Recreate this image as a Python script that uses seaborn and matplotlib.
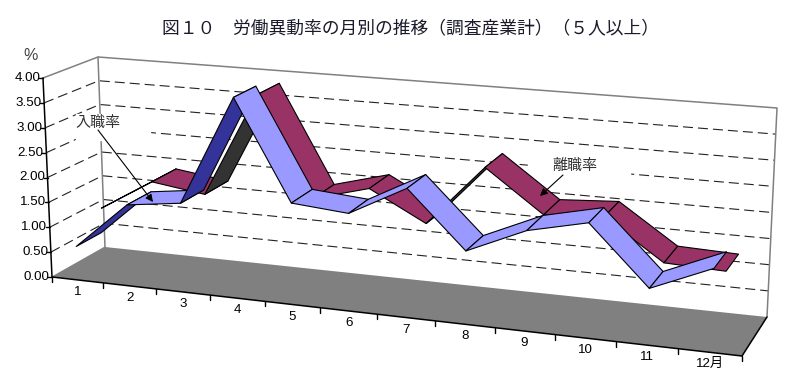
import numpy as np
import pandas as pd
import matplotlib
matplotlib.use('Agg')
import matplotlib.pyplot as plt
import seaborn as sns

# --- Dati ---
months = ['1', '2', '3', '4', '5', '6', '7', '8', '9', '10', '11', '12月']
entry_rate = [0.67, 1.61, 1.75, 3.93, 1.97, 1.88, 2.47, 1.39, 1.89, 2.15, 1.05, 1.54]
exit_rate = [1.16, 1.80, 1.65, 3.75, 1.78, 2.08, 1.50, 2.70, 1.89, 1.96, 1.20, 1.16]
y_ticks = [0.0, 0.5, 1.0, 1.5, 2.0, 2.5, 3.0, 3.5, 4.0]
y_max = 4.0
title = '図１０　労働異動率の月別の推移（調査産業計）（５人以上）'

# --- Angoli del box 3D in pixel (fronte/retro, sotto/sopra, sinistra/destra) ---
corners = {
    'flb': (52, 277), 'flt': (43, 78), 'frb': (742, 356), 'frt': (753, 137),
    'blb': (105, 247), 'blt': (98, 57), 'brb': (767, 317), 'brt': (777, 108),
}


def project(u, v, w):
    # u = mesi 0-1, v = profondita 0-1, w = altezza 0-1
    s = u * (0.886 + 0.114 * u)  # prospettiva lungo x
    c = {k: np.array(p, dtype=float) for k, p in corners.items()}
    front_b = c['flb'] + s * (c['frb'] - c['flb'])
    front_t = c['flt'] + s * (c['frt'] - c['flt'])
    back_b = c['blb'] + s * (c['brb'] - c['blb'])
    back_t = c['blt'] + s * (c['brt'] - c['blt'])
    bottom = front_b + v * (back_b - front_b)
    top = front_t + v * (back_t - front_t)
    return bottom + w * (top - bottom)


def pt(month_idx, rate, v):
    return project((month_idx + 0.5) / len(months), v, rate / y_max)


sns.set_theme(style='white')
plt.rcParams['font.family'] = ['Liberation Sans', 'Noto Sans CJK JP', 'DejaVu Sans']

fig = plt.figure(figsize=(7.92, 3.90), dpi=100)
ax = fig.add_axes([0, 0, 1, 1])
ax.set_xlim(0, 792)
ax.set_ylim(390, 0)
ax.axis('off')

# --- Pavimento ---
floor = [project(0, 0, 0), project(1, 0, 0), project(1, 1, 0), project(0, 1, 0)]
ax.fill(*zip(*floor), facecolor='#808080', edgecolor='none', zorder=1)

# --- Griglia tratteggiata su parete sinistra e di fondo ---
rows = []
for r in y_ticks[1:-1]:
    w = r / y_max
    for i, p in enumerate([project(0, 0, w), project(0, 1, w), project(1, 1, w)]):
        rows.append({'rate': r, 'x': p[0], 'y': p[1]})
grid_df = pd.DataFrame(rows)
sns.lineplot(data=grid_df, x='x', y='y', units='rate', estimator=None, sort=False,
             color='#222222', linewidth=0.8, linestyle=(0, (9, 4.5)), legend=False, ax=ax, zorder=2)
ax.set_xlim(0, 792)
ax.set_ylim(390, 0)
ax.axis('off')

# --- Contorno pareti ---
outline = [project(0, 0, 1), project(0, 1, 1), project(1, 1, 1), project(1, 1, 0)]
ax.plot(*zip(*outline), color='#808080', lw=1.1, zorder=2)
ax.plot(*zip(project(0, 1, 1), project(0, 1, 0)), color='#808080', lw=1.1, zorder=2)
ax.plot(*zip(project(0, 0, 0), project(0, 1, 0)), color='#808080', lw=0.8, zorder=2)

# --- Sfondo bianco delle etichette ---
ax.fill([76, 150, 150, 76], [114, 114, 140, 140], color='white', zorder=3)
ax.fill([528, 630, 630, 528], [160, 160, 178, 178], color='white', zorder=3)


# --- Nastri 3D ---
def ribbon(values, v0, v1, light, dark, z):
    for i in range(len(values) - 1):
        a0 = pt(i, values[i], v0)
        b0 = pt(i + 1, values[i + 1], v0)
        a1 = pt(i, values[i], v1)
        seg = b0 - a0
        dep = a1 - a0
        # faccia superiore visibile se la pendenza e minore di quella della profondita
        cross = seg[0] * dep[1] - seg[1] * dep[0]
        face = light if cross < 0 else dark
        quad = [a0, b0, pt(i + 1, values[i + 1], v1), a1]
        ax.fill(*zip(*quad), facecolor=face, edgecolor='black', linewidth=0.8,
                joinstyle='round', zorder=z + i * 0.01)


ribbon(exit_rate, 0.5, 0.98, '#993366', '#333333', 4)
ribbon(entry_rate, 0.0, 0.48, '#9999FF', '#333399', 5)

# --- Assi ---
ax.plot(*zip(project(0, 0, 0), project(0, 0, 1)), color='black', lw=1.1, zorder=6)
ax.plot(*zip(project(0, 0, 0), project(1, 0, 0)), color='black', lw=1.1, zorder=6)
ax.plot(*zip(project(1, 0, 0), project(1, 1, 0)), color='black', lw=1.1, zorder=6)

for r in y_ticks:
    p = project(0, 0, r / y_max)
    ax.plot([p[0] - 4, p[0]], [p[1], p[1]], color='black', lw=1, zorder=6)
    ax.text(p[0] - 2.5, p[1], f'{r:.2f}', ha='right', va='center', fontsize=9.6, color='black')

for i in range(len(months) + 1):
    p = project(i / len(months), 0, 0)
    ax.plot([p[0], p[0]], [p[1], p[1] + 5], color='black', lw=1, zorder=6)

for i, m in enumerate(months):
    p = project((i + 0.5) / len(months), 0, 0)
    ax.text(p[0], p[1] + 12, m, ha='center', va='center', fontsize=9.6, color='black')

# --- Testi ---
ax.text(411, 29, title, ha='center', va='center', fontsize=12.8, color='#1a1a2a')
ax.text(31, 56, '%', ha='center', va='center', fontsize=11.5, color='#444444')
ax.text(98, 123, '入職率', ha='center', va='center', fontsize=10.8, color='#333333', zorder=7)
ax.text(575, 166, '離職率', ha='center', va='center', fontsize=10.8, color='#333333', zorder=7)

ax.annotate('', xy=(153, 202), xytext=(98, 130), zorder=8,
            arrowprops=dict(arrowstyle='-|>', color='black', lw=0.8, shrinkA=0, shrinkB=0, mutation_scale=11))
ax.annotate('', xy=(540, 196), xytext=(563, 175), zorder=8,
            arrowprops=dict(arrowstyle='-|>', color='black', lw=0.8, shrinkA=0, shrinkB=0, mutation_scale=11))

fig.savefig('out.png', dpi=100)
